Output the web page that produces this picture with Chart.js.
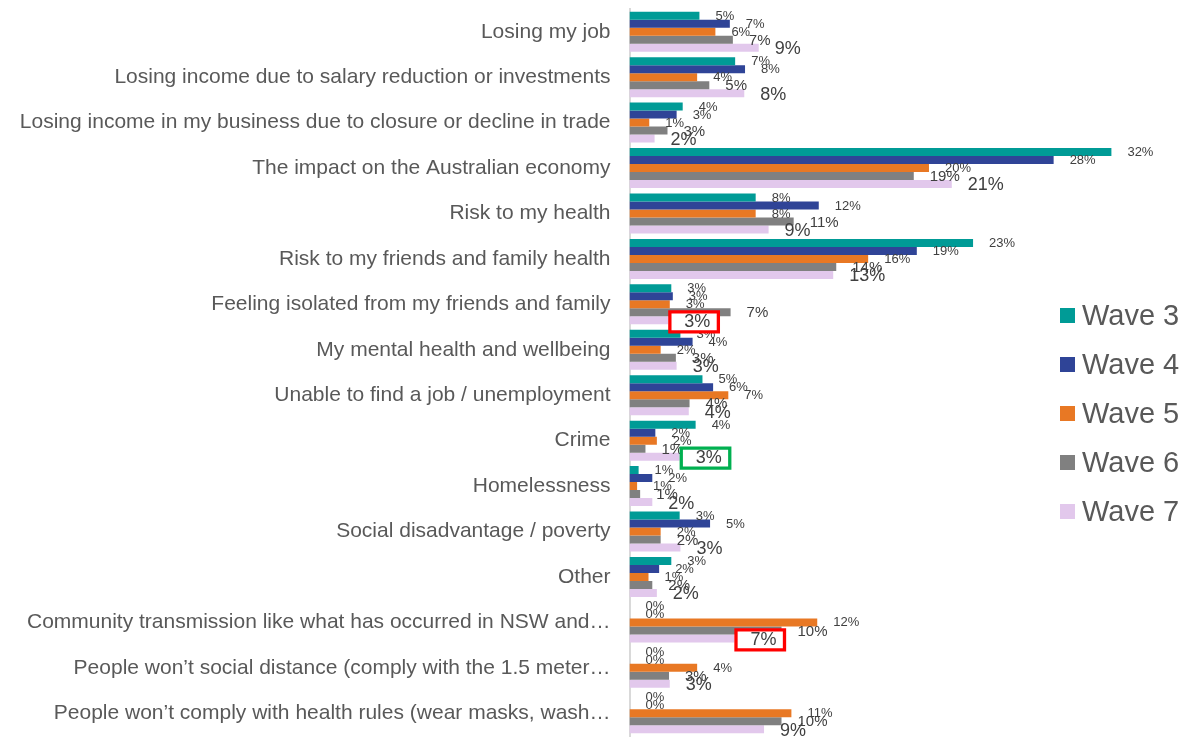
<!DOCTYPE html>
<html>
<head>
<meta charset="utf-8">
<script src="https://cdn.jsdelivr.net/npm/chart.js@4"></script>
<style>
  html, body { margin: 0; padding: 0; background: #ffffff; }
  #wrap { position: relative; width: 1183px; height: 738px; overflow: hidden; }
  #legend { position: absolute; left: 1060px; top: 0; font-family: "Liberation Sans", Arial, sans-serif; }
  .li { position: absolute; left: 0; height: 34px; display: flex; align-items: center; white-space: nowrap; font-size: 29px; color: #595959; }
  .sw { width: 15px; height: 15px; margin-right: 7px; flex: none; }
</style>
</head>
<body>
<div id="wrap">
  <canvas id="c"></canvas>
  <div id="legend"></div>
</div>
<script>
const categories = [
  "Losing my job",
  "Losing income due to salary reduction or investments",
  "Losing income in my business due to closure or decline in trade",
  "The impact on the Australian economy",
  "Risk to my health",
  "Risk to my friends and family health",
  "Feeling isolated from my friends and family",
  "My mental health and wellbeing",
  "Unable to find a job / unemployment",
  "Crime",
  "Homelessness",
  "Social disadvantage / poverty",
  "Other",
  "Community transmission like what has occurred in NSW and\u2026",
  "People won\u2019t social distance (comply with the 1.5 meter\u2026",
  "People won\u2019t comply with health rules (wear masks, wash\u2026"
];
const seriesNames = ["Wave 3", "Wave 4", "Wave 5", "Wave 6", "Wave 7"];
const wave3 = [4.6, 6.95, 3.5, 31.7, 8.3, 22.6, 2.75, 3.35, 4.8, 4.35, 0.6, 3.3, 2.75, 0, 0, 0];
const wave4 = [6.6, 7.6, 3.1, 27.9, 12.45, 18.9, 2.85, 4.15, 5.5, 1.7, 1.5, 5.3, 1.95, 0, 0, 0];
const wave5 = [5.65, 4.45, 1.3, 19.7, 8.3, 15.7, 2.65, 2.05, 6.5, 1.8, 0.5, 2.05, 1.25, 12.35, 4.45, 10.65];
const wave6 = [6.8, 5.25, 2.5, 18.7, 10.8, 13.6, 6.65, 3.05, 3.95, 1.05, 0.7, 2.05, 1.5, 10.0, 2.6, 10.0];
const wave7 = [8.5, 7.55, 1.65, 21.2, 9.15, 13.4, 2.55, 3.1, 3.9, 3.3, 1.5, 3.35, 1.8, 6.9, 2.65, 8.85];
// highlighted labels: [category index, series index, colour]
const highlights = [[6, 4, "#ff0000"], [9, 4, "#00b050"], [13, 4, "#ff0000"]];

const colors = ["#009b96", "#2f4497", "#e87824", "#808080", "#e2c8ec"];
const labelSizes = [13, 13, 13, 15, 18];
const labelDy = [0.5, 0.5, 0.5, 1, 1.5];
const FONT = "'Liberation Sans', Arial, sans-serif";

const allSeries = [wave3, wave4, wave5, wave6, wave7];

const labelPlugin = {
  id: 'barLabels',
  afterDatasetsDraw(chart) {
    const ctx = chart.ctx;
    const drawLabel = (di, i) => {
      const el = chart.getDatasetMeta(di).data[i];
      const v = chart.data.datasets[di].data[i];
      ctx.save();
      ctx.font = labelSizes[di] + "px " + FONT;
      ctx.fillStyle = "#404040";
      ctx.textAlign = "left";
      ctx.textBaseline = "middle";
      ctx.fillText(Math.round(v) + "%", el.x + 16, el.y + labelDy[di]);
      ctx.restore();
    };
    chart.data.datasets.forEach((ds, di) => {
      ds.data.forEach((v, i) => drawLabel(di, i));
    });
    highlights.forEach(([i, di, col]) => {
      const el = chart.getDatasetMeta(di).data[i];
      const cy = el.y + 1.5;
      ctx.save();
      ctx.lineWidth = 3.3;
      ctx.strokeStyle = col;
      ctx.fillStyle = "#ffffff";
      ctx.beginPath();
      ctx.rect(el.x + 1.6, cy - 10, 48.5, 20);
      ctx.fill();
      ctx.stroke();
      ctx.restore();
      drawLabel(di, i);
    });
  }
};

new Chart(document.getElementById('c'), {
  type: 'bar',
  data: {
    labels: categories,
    datasets: allSeries.map((d, k) => ({
      label: seriesNames[k],
      data: d,
      backgroundColor: colors[k],
      borderWidth: 0,
      categoryPercentage: 0.88,
      barPercentage: 1.0
    }))
  },
  options: {
    indexAxis: 'y',
    responsive: true,
    maintainAspectRatio: false,
    animation: false,
    layout: { padding: { top: 9, bottom: 2, left: 0, right: 0 } },
    plugins: { legend: { display: false }, tooltip: { enabled: false } },
    scales: {
      x: { display: false, min: 0, max: 36.41 },
      y: {
        afterFit(scale) { scale.width = 629.5; scale.paddingTop = 0; scale.paddingBottom = 0; },
        grid: { display: false, drawTicks: false },
        border: { display: true, color: "#d9d9d9", width: 2 },
        ticks: { padding: 19, color: "#595959", font: { family: FONT, size: 21 }, autoSkip: false }
      }
    }
  },
  plugins: [labelPlugin]
});

const legend = document.getElementById('legend');
seriesNames.forEach((n, k) => {
  const item = document.createElement('div');
  item.className = 'li';
  item.style.top = (315 + 49 * k - 17) + 'px';
  const sw = document.createElement('span');
  sw.className = 'sw';
  sw.style.background = colors[k];
  const t = document.createElement('span');
  t.textContent = n;
  item.appendChild(sw);
  item.appendChild(t);
  legend.appendChild(item);
});
</script>
</body>
</html>
